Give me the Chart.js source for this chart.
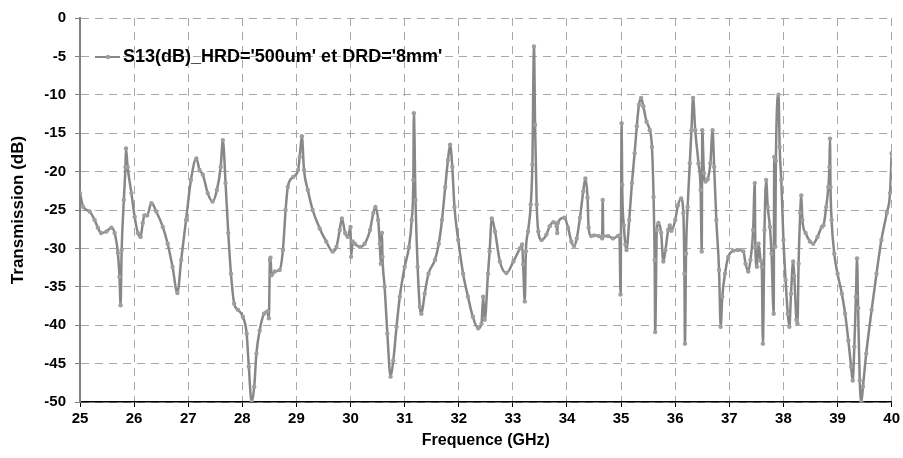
<!DOCTYPE html>
<html>
<head>
<meta charset="utf-8">
<script src="https://cdn.jsdelivr.net/npm/chart.js@4/dist/chart.umd.min.js"></script>
<style>
html,body{margin:0;padding:0;background:#fff;}
#wrap{position:relative;width:903px;height:458px;}
canvas{display:block;}
</style>
</head>
<body>
<div id="wrap"><canvas id="c" width="903" height="458"></canvas></div>
<script>
const seriesLabel = "S13(dB)_HRD='500um' et DRD='8mm'";
const xTitle = "Frequence (GHz)";
const yTitle = "Transmission (dB)";
const xTicks = [25,26,27,28,29,30,31,32,33,34,35,36,37,38,39,40];
const yTicks = [0,-5,-10,-15,-20,-25,-30,-35,-40,-45,-50];

const freqGHz = [
25.00,25.06,25.18,25.27,25.33,25.39,25.49,25.58,25.64,25.70,25.73,25.75,25.77,25.81,25.84,25.85,25.88,25.95,
26.01,26.07,26.12,26.16,26.19,26.24,26.32,26.41,26.53,26.62,26.71,26.80,26.87,26.96,
27.05,27.15,27.21,27.27,27.36,27.45,27.53,27.60,27.64,27.69,27.74,27.79,27.85,27.92,
28.01,28.08,28.12,28.17,28.22,28.26,28.32,28.40,28.46,28.49,28.51,28.52,28.54,28.60,28.69,28.75,28.80,28.84,28.94,
29.03,29.06,29.10,29.14,29.21,29.30,29.43,29.55,29.67,29.74,29.80,29.84,29.90,29.95,
30.00,30.01,30.04,30.08,30.17,30.26,30.36,30.42,30.46,30.51,30.54,30.56,30.58,30.59,30.63,30.68,30.74,30.79,30.85,30.91,
31.00,31.08,31.13,31.16,31.17,31.20,31.24,31.28,31.31,31.37,31.44,31.56,31.63,31.69,31.75,31.80,31.84,31.88,31.92,31.99,
32.08,32.17,32.26,32.36,32.42,32.45,32.48,32.54,32.57,32.61,32.67,32.76,32.88,
33.01,33.13,33.17,33.19,33.22,33.24,33.28,33.33,33.36,33.39,33.41,33.44,33.47,33.53,33.62,33.68,33.75,33.81,33.82,33.83,33.95,
34.02,34.08,34.13,34.18,34.24,34.30,34.34,34.38,34.40,34.45,34.50,34.59,34.65,34.66,34.67,34.76,34.85,34.94,34.97,34.99,
35.01,35.02,35.05,35.08,35.10,35.15,35.20,35.25,35.29,35.33,35.37,35.41,35.47,35.53,35.57,35.60,35.62,35.63,35.66,35.69,35.74,35.78,35.82,35.87,35.90,35.93,
36.00,36.05,36.11,36.15,36.17,36.18,36.20,36.23,36.27,36.30,36.33,36.37,36.43,36.47,36.49,36.50,36.53,36.56,36.60,36.65,36.69,36.72,36.76,36.81,36.84,36.87,36.92,36.98,
37.07,37.15,37.26,37.30,37.35,37.39,37.44,37.47,37.48,37.51,37.54,37.58,37.60,37.62,37.65,37.68,37.71,37.75,37.78,37.82,37.83,37.85,37.86,37.91,37.93,37.96,
38.00,38.04,38.08,38.11,38.14,38.18,38.20,38.24,38.26,38.28,38.31,38.33,38.35,38.41,38.49,38.55,38.63,38.71,38.74,38.79,38.83,38.85,38.86,38.87,38.89,38.94,
39.00,39.08,39.14,39.20,39.25,39.28,39.31,39.34,39.36,39.38,39.41,39.44,39.47,39.53,39.63,39.72,39.81,39.91,39.97,40.00
];

const s13dB = [
-22.8,-24.6,-25.2,-26.3,-27.3,-28.0,-27.8,-27.3,-28.0,-30.6,-33.7,-37.4,-30.2,-23.7,-19.4,-17.0,-19.4,-22.8,
-25.9,-28.0,-28.5,-26.7,-25.7,-25.7,-24.1,-25.2,-27.2,-29.4,-32.4,-35.8,-31.5,-26.3,
-21.1,-18.3,-19.8,-20.4,-22.8,-23.9,-22.4,-19.4,-15.9,-21.5,-28.0,-33.3,-37.2,-38.0,
-38.9,-41.1,-45.4,-50.0,-48.0,-43.7,-40.7,-38.5,-38.2,-39.1,-31.5,-31.2,-33.5,-33.0,-32.8,-30.2,-25.0,-22.0,-20.7,
-19.8,-18.1,-15.4,-19.8,-22.4,-25.0,-27.4,-29.1,-30.4,-29.8,-27.6,-26.1,-28.0,-28.5,
-27.2,-31.1,-29.1,-29.4,-29.8,-29.4,-27.6,-25.4,-24.6,-26.3,-29.4,-32.0,-28.0,-31.1,-35.0,-41.1,-46.7,-44.6,-40.2,-36.3,
-32.4,-29.8,-26.3,-21.1,-12.4,-23.7,-32.4,-37.6,-38.5,-35.9,-33.3,-31.5,-29.4,-26.3,-22.0,-18.5,-16.5,-19.4,-24.6,-28.9,
-33.3,-36.3,-38.9,-40.4,-39.8,-36.3,-39.3,-33.3,-30.4,-26.1,-27.8,-31.7,-33.2,
-31.7,-30.0,-29.5,-32.1,-36.9,-30.4,-27.8,-24.3,-19.1,-3.7,-13.9,-24.3,-27.8,-28.9,-28.2,-27.1,-26.6,-27.1,-28.0,-26.7,-26.0,
-27.3,-29.1,-29.7,-28.7,-26.0,-22.6,-20.9,-23.4,-27.3,-28.4,-28.3,-28.4,-28.7,-23.7,-28.4,-28.4,-28.7,-28.4,-28.3,-36.0,
-13.7,-21.7,-27.0,-29.5,-30.2,-26.3,-21.5,-17.6,-14.1,-11.3,-10.4,-11.5,-13.5,-14.6,-16.8,-23.3,-31.5,-40.9,-27.6,-26.7,-28.0,-31.7,-30.2,-27.6,-27.0,-27.7,
-26.3,-24.4,-23.5,-25.4,-33.3,-42.4,-30.7,-24.6,-18.9,-14.6,-10.4,-14.6,-18.9,-22.4,-30.4,-14.6,-20.2,-21.3,-21.0,-18.9,-14.6,-19.4,-26.3,-32.8,-40.2,-36.3,-33.3,-31.1,
-30.3,-30.2,-30.4,-32.0,-33.0,-31.5,-27.6,-21.5,-29.8,-32.4,-29.4,-31.6,-32.4,-42.4,-27.6,-21.1,-24.6,-27.2,-30.7,-38.5,-18.1,-29.8,-18.6,-10.0,-16.8,-21.1,
-28.9,-34.1,-38.5,-40.2,-35.9,-31.7,-33.6,-39.3,-39.8,-32.0,-25.4,-23.1,-26.3,-28.0,-29.1,-29.4,-28.5,-27.2,-27.0,-24.6,-22.0,-19.4,-15.7,-22.0,-26.3,-30.7,
-33.3,-35.9,-38.5,-42.0,-45.4,-47.2,-42.8,-36.3,-31.3,-37.8,-47.2,-50.0,-48.0,-43.7,-38.0,-33.3,-28.9,-25.4,-22.8,-17.6
];

const FONT = "'Liberation Sans', Arial, sans-serif";
const LINE_COLOR = '#878787';
const POINT_COLOR = '#9e9e9e';

const points = freqGHz.map((f, i) => ({x: f, y: s13dB[i]}));

const insideLegend = {
  id: 'insideLegend',
  afterDraw(chart) {
    const ctx = chart.ctx;
    const y = 57;
    ctx.save();
    ctx.strokeStyle = LINE_COLOR;
    ctx.lineWidth = 2;
    ctx.beginPath();
    ctx.moveTo(95, y);
    ctx.lineTo(120, y);
    ctx.stroke();
    ctx.fillStyle = POINT_COLOR;
    ctx.beginPath();
    ctx.arc(108, y, 2.2, 0, Math.PI * 2);
    ctx.fill();
    ctx.fillStyle = '#000';
    ctx.font = "bold 18px " + FONT;
    ctx.textBaseline = 'middle';
    ctx.textAlign = 'left';
    ctx.fillText(seriesLabel, 123, y);
    ctx.restore();
  }
};

new Chart(document.getElementById('c'), {
  type: 'line',
  data: {
    datasets: [{
      label: seriesLabel,
      data: points,
      borderColor: LINE_COLOR,
      backgroundColor: POINT_COLOR,
      borderWidth: 2.5,
      pointRadius: 2.2,
      pointBorderWidth: 0,
      pointBackgroundColor: POINT_COLOR,
      cubicInterpolationMode: 'monotone',
      fill: false
    }]
  },
  options: {
    responsive: false,
    animation: false,
    devicePixelRatio: 1,
    layout: {padding: {left: 0, right: 10, top: 18, bottom: 0}},
    plugins: {legend: {display: false}, tooltip: {enabled: false}},
    scales: {
      x: {
        type: 'linear',
        min: 25, max: 40,
        afterBuildTicks: (s) => { s.ticks = xTicks.map(v => ({value: v})); },
        afterFit: (s) => { s.height = 56; },
        ticks: {
          autoSkip: false, maxRotation: 0, padding: 3,
          color: '#000',
          font: {family: FONT, size: 15, weight: 'bold'}
        },
        grid: {color: '#a8a8a8', lineWidth: 1, tickLength: 5, tickColor: '#000', tickWidth: 1},
        border: {display: true, color: '#000', width: 1.5, dash: [8, 6]},
        title: {
          display: true, text: xTitle, color: '#000',
          font: {family: FONT, size: 16, weight: 'bold'},
          padding: {top: 0, bottom: 8}
        }
      },
      y: {
        type: 'linear',
        min: -50, max: 0,
        afterBuildTicks: (s) => { s.ticks = yTicks.map(v => ({value: v})); },
        afterFit: (s) => { s.width = 80; },
        ticks: {
          padding: 9, color: '#000',
          font: {family: FONT, size: 15, weight: 'bold'}
        },
        grid: {color: '#a8a8a8', lineWidth: 1, tickLength: 5, tickColor: '#808080', tickWidth: 1},
        border: {display: true, color: '#808080', width: 2, dash: [8, 6]},
        title: {
          display: true, text: yTitle, color: '#000',
          font: {family: FONT, size: 17, weight: 'bold'},
          padding: {top: 8, bottom: 0}
        }
      }
    }
  },
  plugins: [insideLegend]
});
</script>
</body>
</html>
